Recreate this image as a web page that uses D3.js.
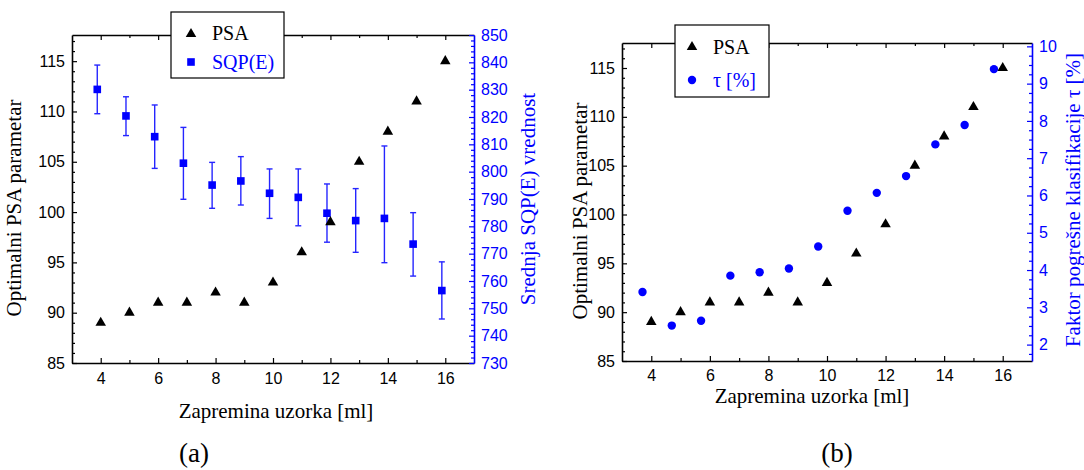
<!DOCTYPE html>
<html>
<head>
<meta charset="utf-8">
<script src="https://cdn.jsdelivr.net/npm/d3@7"></script>
<style>
  body { margin: 0; background: #fff; }
  .tick text { font-family: "Liberation Sans", Arial, sans-serif; font-size: 16px; }
  .title { font-family: "Liberation Serif", "Times New Roman", serif; font-size: 21px; }
  .legend text { font-family: "Liberation Serif", "Times New Roman", serif; font-size: 20px; }
</style>
</head>
<body>
<script>
// data
var volume = [4, 5, 6, 7, 8, 9, 10, 11, 12, 13, 14, 15, 16];
var psa = [89, 90, 91, 91, 92, 91, 93, 96, 99, 105, 108, 111, 115];
var sqpMean = [830.1, 820.4, 812.8, 803.1, 795.1, 796.6, 792.1, 790.6, 784.8, 782.1, 782.9, 773.5, 756.5];
var sqpHigh = [839.0, 827.4, 824.4, 816.2, 803.4, 805.5, 801.0, 801.0, 795.5, 793.8, 809.4, 785.0, 767.0];
var sqpLow = [821.2, 813.2, 801.2, 789.9, 786.6, 787.8, 782.9, 780.2, 774.2, 770.5, 766.7, 761.8, 746.1];
var tau = [3.41, 2.51, 2.64, 3.85, 3.94, 4.04, 4.63, 5.59, 6.07, 6.52, 7.37, 7.89, 9.39];

var xTicks = [4, 6, 8, 10, 12, 14, 16];
var psaTicks = [85, 90, 95, 100, 105, 110, 115];
var sqpTicks = [730, 740, 750, 760, 770, 780, 790, 800, 810, 820, 830, 840, 850];
var tauTicks = [2, 3, 4, 5, 6, 7, 8, 9, 10];

var blue = "#0000ff";

var svg = d3.select("body").append("svg")
    .attr("width", 1084)
    .attr("height", 470);

// maakt de assen voor een paneel (ticks naar binnen)
function drawFrame(p, x, yL, yR, rTicks, rMinor, rFormat) {
  var g = svg.append("g");

  // kleine ticks
  g.append("g")
      .attr("transform", "translate(0," + p.bottom + ")")
      .call(d3.axisBottom(x).tickValues(d3.range(5, 17, 2)).tickSize(-3).tickFormat(""))
      .call(function(s) { s.select(".domain").remove(); });
  g.append("g")
      .attr("transform", "translate(0," + p.top + ")")
      .call(d3.axisTop(x).tickValues(d3.range(5, 17, 2)).tickSize(-3).tickFormat(""))
      .call(function(s) { s.select(".domain").remove(); });
  g.append("g")
      .attr("transform", "translate(" + p.left + ",0)")
      .call(d3.axisLeft(yL).tickValues(d3.range(86, 118, 1).filter(function(v) { return v % 5 != 0; })).tickSize(-3).tickFormat(""))
      .call(function(s) { s.select(".domain").remove(); });
  g.append("g")
      .attr("transform", "translate(" + p.right + ",0)")
      .call(d3.axisRight(yR).tickValues(rMinor).tickSize(-3).tickFormat(""))
      .call(function(s) { s.select(".domain").remove(); s.selectAll("line").attr("stroke", blue); });

  // grote ticks
  g.append("g")
      .attr("transform", "translate(0," + p.bottom + ")")
      .call(d3.axisBottom(x).tickValues(xTicks).tickSize(-5).tickSizeOuter(0).tickPadding(p.xPad));
  g.append("g")
      .attr("transform", "translate(0," + p.top + ")")
      .call(d3.axisTop(x).tickValues(xTicks).tickSize(-5).tickSizeOuter(0).tickFormat(""));
  g.append("g")
      .attr("transform", "translate(" + p.left + ",0)")
      .call(d3.axisLeft(yL).tickValues(psaTicks).tickSize(-5).tickSizeOuter(0).tickPadding(7));
  var ra = g.append("g")
      .attr("transform", "translate(" + p.right + ",0)")
      .call(d3.axisRight(yR).tickValues(rTicks).tickSize(-5).tickSizeOuter(0).tickPadding(7).tickFormat(rFormat));
  ra.selectAll("line").attr("stroke", blue);
  ra.select(".domain").attr("stroke", blue);
  ra.selectAll("text").attr("fill", blue);

  g.selectAll(".domain").attr("stroke-width", 1.6);
  g.selectAll(".tick line").attr("stroke-width", 1.2);
  return g;
}

function rotTitle(x, y, txt, color) {
  svg.append("text")
      .attr("class", "title")
      .attr("transform", "translate(" + x + "," + y + ") rotate(-90)")
      .attr("text-anchor", "middle")
      .attr("fill", color)
      .text(txt);
}

var tri = d3.symbol().type(d3.symbolTriangle).size(48);
var sq = d3.symbol().type(d3.symbolSquare).size(58);

// ---------- paneel (a) ----------
var pa = {left: 72, right: 474, top: 35, bottom: 363, xPad: 10};
var xa = d3.scaleLinear().domain([3, 17]).range([pa.left, pa.right]);
var ya = d3.scaleLinear().domain([85, 117.6]).range([pa.bottom, pa.top]);
var ya2 = d3.scaleLinear().domain([730, 850]).range([pa.bottom, pa.top]);

drawFrame(pa, xa, ya, ya2, sqpTicks, d3.range(732, 850, 2).filter(function(v) { return v % 10 != 0; }), d3.format("d"));

// foutbalken
var eb = svg.append("g").attr("stroke", blue).attr("stroke-width", 1.4).attr("opacity", 0.85);
volume.forEach(function(v, i) {
  var cx = xa(v - 0.12);
  eb.append("line").attr("x1", cx).attr("x2", cx).attr("y1", ya2(sqpLow[i])).attr("y2", ya2(sqpHigh[i]));
  eb.append("line").attr("x1", cx - 3).attr("x2", cx + 3).attr("y1", ya2(sqpLow[i])).attr("y2", ya2(sqpLow[i]));
  eb.append("line").attr("x1", cx - 3).attr("x2", cx + 3).attr("y1", ya2(sqpHigh[i])).attr("y2", ya2(sqpHigh[i]));
});

svg.append("g").selectAll("path")
    .data(volume)
    .enter().append("path")
      .attr("d", sq)
      .attr("fill", blue)
      .attr("transform", function(d, i) { return "translate(" + xa(d - 0.12) + "," + ya2(sqpMean[i]) + ")"; });

svg.append("g").selectAll("path")
    .data(volume)
    .enter().append("path")
      .attr("d", tri)
      .attr("fill", "#000")
      .attr("transform", function(d, i) { return "translate(" + xa(d) + "," + ya(psa[i]) + ")"; });

rotTitle(21, 208, "Optimalni PSA parametar", "#000");
rotTitle(535, 199, "Srednja SQP(E) vrednost", blue);
svg.append("text").attr("class", "title").attr("x", 276).attr("y", 418)
    .attr("text-anchor", "middle").text("Zapremina uzorka [ml]");
svg.append("text").attr("class", "title").attr("x", 194).attr("y", 462)
    .attr("text-anchor", "middle").style("font-size", "27px").text("(a)");

// legenda (a)
var la = svg.append("g").attr("class", "legend");
la.append("rect").attr("x", 171).attr("y", 12).attr("width", 113).attr("height", 66)
    .attr("fill", "#fff").attr("stroke", "#000").attr("stroke-width", 1.2);
la.append("path").attr("d", tri).attr("transform", "translate(191,34)");
la.append("text").attr("x", 212).attr("y", 40).text("PSA");
la.append("path").attr("d", sq).attr("fill", blue).attr("transform", "translate(191,62)");
la.append("text").attr("x", 212).attr("y", 69).attr("fill", blue).text("SQP(E)");

// ---------- paneel (b) ----------
var pb = {left: 622, right: 1032, top: 43, bottom: 361, xPad: 9};
var xb = d3.scaleLinear().domain([3, 17]).range([pb.left, pb.right]);
var yb = d3.scaleLinear().domain([85, 117.56]).range([pb.bottom, pb.top]);
var yb2 = d3.scaleLinear().domain([1.56, 10.09]).range([pb.bottom, pb.top]);

drawFrame(pb, xb, yb, yb2, tauTicks, d3.range(1.75, 10.05, 0.25).filter(function(v) { return v % 1 != 0; }), d3.format("d"));

svg.append("g").selectAll("circle")
    .data(volume)
    .enter().append("circle")
      .attr("cx", function(d) { return xb(d - 0.3); })
      .attr("cy", function(d, i) { return yb2(tau[i]); })
      .attr("r", 4.2)
      .attr("fill", blue);

svg.append("g").selectAll("path")
    .data(volume)
    .enter().append("path")
      .attr("d", tri)
      .attr("fill", "#000")
      .attr("transform", function(d, i) { return "translate(" + xb(d) + "," + yb(psa[i]) + ")"; });

rotTitle(587, 211, "Optimalni PSA parametar", "#000");
rotTitle(1080, 200, "Faktor pogrešne klasifikacije  τ [%]", blue);
svg.append("text").attr("class", "title").attr("x", 812).attr("y", 403)
    .attr("text-anchor", "middle").text("Zapremina uzorka [ml]");
svg.append("text").attr("class", "title").attr("x", 837).attr("y", 462)
    .attr("text-anchor", "middle").style("font-size", "27px").text("(b)");

// legenda (b)
var lb = svg.append("g").attr("class", "legend");
lb.append("rect").attr("x", 675).attr("y", 25).attr("width", 94).attr("height", 72)
    .attr("fill", "#fff").attr("stroke", "#000").attr("stroke-width", 1.2);
lb.append("path").attr("d", tri).attr("transform", "translate(692,47)");
lb.append("text").attr("x", 713).attr("y", 54).text("PSA");
lb.append("circle").attr("cx", 692).attr("cy", 80).attr("r", 4.2).attr("fill", blue);
lb.append("text").attr("x", 713).attr("y", 87).attr("fill", blue).text("τ [%]");
</script>
</body>
</html>
